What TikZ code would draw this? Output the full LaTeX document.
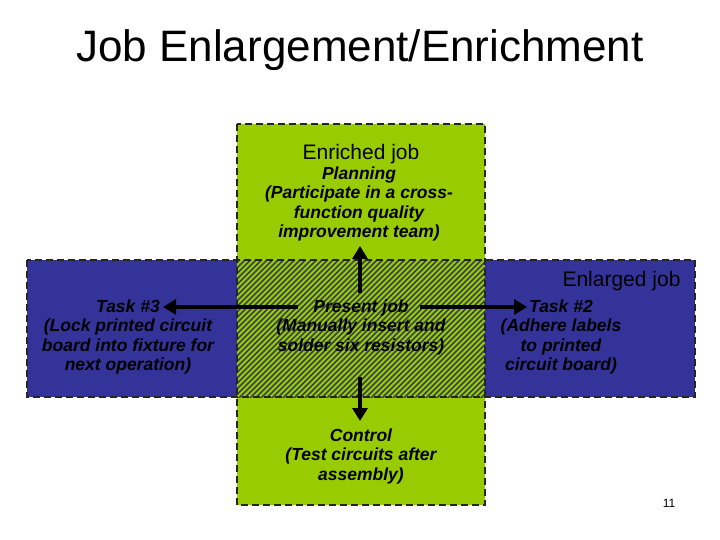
\documentclass[tikz,border=0pt]{standalone}
\usepackage{fontspec}
\setmainfont{Liberation Sans}
\usetikzlibrary{arrows.meta}
\definecolor{grn}{RGB}{153,204,0}
\definecolor{blu}{RGB}{51,51,153}
\definecolor{hat}{RGB}{55,65,85}
\begin{document}
\begin{tikzpicture}[x=1pt,y=-1pt,
  box/.style={draw=black!85,line width=2.2pt,dash pattern=on 7pt off 4pt},
  txt/.style={font=\bfseries\itshape\fontsize{17.5}{19.5}\selectfont,align=center,text=black},
  arr/.style={line width=4pt,-{Triangle[length=13pt,width=15pt]}}]
\useasboundingbox (0,0) rectangle (720,540);
\node[font=\fontsize{44}{48}\selectfont] (title) at (360,50) {Job Enlargement/Enrichment};
\fill[grn] (237,124) rectangle (485,505);
\fill[blu] (27,260) rectangle (695,397);
\fill[grn] (237,260) rectangle (485,397);
\begin{scope}
\clip (237,260) rectangle (485,397);
\foreach \i in {0,5.5,...,400} {\draw[hat,line width=1.6pt] (237+\i,400) -- (237+\i+145,255);}
\foreach \i in {5.5,11,...,160} {\draw[hat,line width=1.6pt] (237-\i,400) -- (237-\i+145,255);}
\end{scope}
\draw[box] (237,124) rectangle (485,505);
\draw[box] (27,260) rectangle (695,397);
\node[font=\fontsize{21}{23}\selectfont] (enr) at (361,154) {Enriched job};
\node[txt] (plan) at (359,204) {Planning\\(Participate in a cross-\\function quality\\improvement team)};
\node[font=\fontsize{21}{23}\selectfont,anchor=east] (enl) at (684,281) {Enlarged job};
\node[txt] (pres) at (361,327) {Present job\\(Manually insert and\\solder six resistors)};
\node[txt] (t3) at (128,337) {Task \#3\\(Lock printed circuit\\board into fixture for\\next operation)};
\node[txt] (t2) at (561,337) {Task \#2\\(Adhere labels\\to printed\\circuit board)};
\node[txt] (ctrl) at (361,456) {Control\\(Test circuits after\\assembly)};
\node[font=\fontsize{12}{14}\selectfont] (pg) at (669,503) {11};
\coordinate (uS) at (360,293); \coordinate (uE) at (360,246);
\coordinate (dS) at (360,377); \coordinate (dE) at (360,421);
\coordinate (lS) at (298,307); \coordinate (lE) at (163,307);
\coordinate (rS) at (420,307); \coordinate (rE) at (527,307);
\draw[arr] (uS) -- (uE);
\draw[arr] (dS) -- (dE);
\draw[arr] (lS) -- (lE);
\draw[arr] (rS) -- (rE);
\end{tikzpicture}
\end{document}
